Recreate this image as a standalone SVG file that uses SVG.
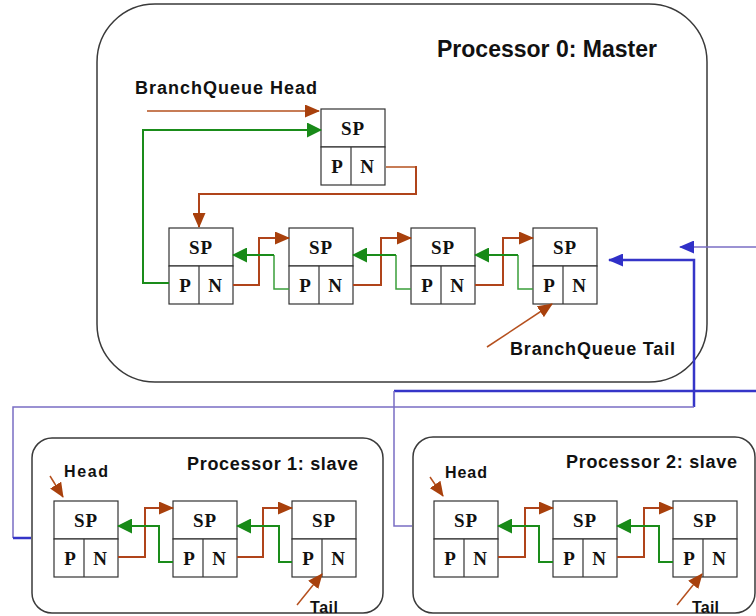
<svg xmlns="http://www.w3.org/2000/svg" width="756" height="616" viewBox="0 0 756 616">
<style>
.box{fill:none;stroke:#3a3a3a;stroke-width:1.5}
.nd{fill:#fff;stroke:#333;stroke-width:1.2}
.sp{font-family:"Liberation Serif","Times New Roman",serif;font-weight:bold;font-size:19px;fill:#111;text-anchor:middle}
.lbl{font-family:"Liberation Sans",Arial,sans-serif;font-weight:bold;fill:#111}
.br{fill:none;stroke:#b0441a;stroke-width:2}
.brt{fill:none;stroke:#b5501e;stroke-width:1.5}
.gr{fill:none;stroke:#1a8c1a;stroke-width:2}
.grt{fill:none;stroke:#3a9e3a;stroke-width:1.5}
.bl{fill:none;stroke:#3535c8;stroke-width:2.5}
.pu{fill:none;stroke:#7a6ec4;stroke-width:1.5}
</style>
<defs>
<marker id="ab" markerUnits="userSpaceOnUse" markerWidth="15" markerHeight="13" refX="14" refY="6.5" orient="auto"><path d="M0,0 L15,6.5 L0,13 z" fill="#a8400c"/></marker>
<marker id="ag" markerUnits="userSpaceOnUse" markerWidth="15" markerHeight="15" refX="14" refY="7.5" orient="auto"><path d="M0,0 L15,7.5 L0,15 z" fill="#188a18"/></marker>
<marker id="abl" markerUnits="userSpaceOnUse" markerWidth="15" markerHeight="13" refX="14" refY="6.5" orient="auto"><path d="M0,0 L15,6.5 L0,13 z" fill="#3030c8"/></marker>
<g id="node">
<rect class="nd" x="0" y="0" width="64" height="38"/>
<rect class="nd" x="0" y="38" width="64" height="38"/>
<line x1="30" y1="38" x2="30" y2="76" stroke="#333" stroke-width="1.2"/>
<text class="sp" x="32" y="26" letter-spacing="1">SP</text>
<text class="sp" x="16" y="64">P</text>
<text class="sp" x="46" y="64">N</text>
</g>
</defs>

<g id="processor0">
<rect class="box" x="97" y="4" width="610" height="378" rx="58" ry="58"/>
<text class="lbl" x="437" y="57" font-size="23" textLength="220" lengthAdjust="spacingAndGlyphs">Processor 0: Master</text>
<text class="lbl" x="135" y="94" font-size="18" textLength="182" lengthAdjust="spacing">BranchQueue Head</text>
<text class="lbl" x="510" y="355" font-size="18" textLength="165" lengthAdjust="spacing">BranchQueue Tail</text>
</g>
<g id="processor1">
<rect class="box" x="32" y="438" width="351" height="175" rx="20" ry="20"/>
<text class="lbl" x="187" y="470" font-size="18" textLength="171" lengthAdjust="spacing">Processor 1: slave</text>
<text class="lbl" x="64" y="477" font-size="16" textLength="44" lengthAdjust="spacing">Head</text>
<text class="lbl" x="310" y="613" font-size="16" textLength="28" lengthAdjust="spacing">Tail</text>
</g>
<g id="processor2">
<rect class="box" x="413" y="437" width="342" height="176" rx="20" ry="20"/>
<text class="lbl" x="566" y="468" font-size="18" textLength="171" lengthAdjust="spacing">Processor 2: slave</text>
<text class="lbl" x="445" y="478" font-size="16" textLength="42" lengthAdjust="spacing">Head</text>
<text class="lbl" x="692" y="613" font-size="16" textLength="27" lengthAdjust="spacing">Tail</text>
</g>

<g id="m-top"><use href="#node" x="321" y="109"/></g>
<g id="m-n1"><use href="#node" x="169" y="228"/></g>
<g id="m-n2"><use href="#node" x="289" y="228"/></g>
<g id="m-n3"><use href="#node" x="411" y="228"/></g>
<g id="m-n4"><use href="#node" x="533" y="228"/></g>
<g id="s1-n1"><use href="#node" x="54" y="501"/></g>
<g id="s1-n2"><use href="#node" x="173" y="501"/></g>
<g id="s1-n3"><use href="#node" x="292" y="501"/></g>
<g id="s2-n1"><use href="#node" x="434" y="501"/></g>
<g id="s2-n2"><use href="#node" x="553" y="501"/></g>
<g id="s2-n3"><use href="#node" x="673" y="501"/></g>

<g id="connectors">
<path class="brt" d="M147,111 H319" marker-end="url(#ab)"/>
<path class="gr" d="M169,283 H143 V130 H321" stroke-width="3" marker-end="url(#ag)"/>
<path class="brt" d="M386,167 H416"/>
<path class="br" d="M416,166 V194 H199 V227" stroke-width="3" marker-end="url(#ab)"/>
<path class="br" d="M233,285 H259 V238 H289" marker-end="url(#ab)"/>
<path class="grt" d="M289,289 H274 V255"/>
<path class="gr" d="M274,255 H233" marker-end="url(#ag)"/>
<path class="br" d="M353,285 H381 V238 H411" marker-end="url(#ab)"/>
<path class="grt" d="M411,289 H396 V255"/>
<path class="gr" d="M396,255 H353" marker-end="url(#ag)"/>
<path class="br" d="M475,285 H503 V238 H533" marker-end="url(#ab)"/>
<path class="grt" d="M533,289 H518 V255"/>
<path class="gr" d="M518,255 H475" marker-end="url(#ag)"/>
<path class="brt" d="M487,347 L552,304" marker-end="url(#ab)"/>
<path class="brt" d="M50,476 L63,497" marker-end="url(#ab)"/>
<path class="br" d="M118,557 H145 V508 H173" marker-end="url(#ab)"/>
<path class="gr" d="M173,562 H159 V526 H118" marker-end="url(#ag)"/>
<path class="br" d="M237,557 H263 V508 H292" marker-end="url(#ab)"/>
<path class="gr" d="M292,562 H279 V526 H237" marker-end="url(#ag)"/>
<path class="brt" d="M297,605 L322,574" marker-end="url(#ab)"/>
<path class="brt" d="M430,477 L443,496" marker-end="url(#ab)"/>
<path class="br" d="M498,557 H525 V508 H553" marker-end="url(#ab)"/>
<path class="gr" d="M553,562 H539 V526 H498" marker-end="url(#ag)"/>
<path class="br" d="M617,557 H644 V508 H673" marker-end="url(#ab)"/>
<path class="gr" d="M673,562 H659 V526 H617" marker-end="url(#ag)"/>
<path class="brt" d="M677,605 L702,574" marker-end="url(#ab)"/>
<path class="pu" d="M756,247 H680" stroke="#4a4ac8" marker-end="url(#abl)"/>
<path class="bl" d="M694,407 V260 H609" marker-end="url(#abl)"/>
<path class="pu" d="M13,538 V407 H694"/>
<path class="bl" d="M31,538 H13" stroke-width="2"/>
<path class="bl" d="M756,391 H394"/>
<path class="pu" d="M394,391 V526 H412"/>
</g>
</svg>
